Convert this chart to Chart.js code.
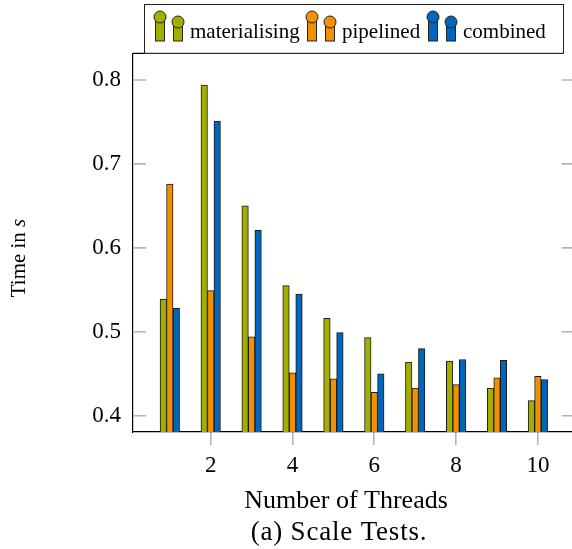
<!DOCTYPE html>
<html>
<head>
<meta charset="utf-8">
<script src="https://cdn.jsdelivr.net/npm/chart.js@4.4.1/dist/chart.umd.min.js"></script>
<style>
  html, body { margin: 0; padding: 0; overflow: hidden; background: #fff; }
  #wrap { width: 572px; height: 549px; overflow: hidden; }
</style>
</head>
<body>
<div id="wrap"><canvas id="scaleChart" width="585" height="549"></canvas></div>
<script>
// Run time in seconds per thread count
const threads = [1, 2, 3, 4, 5, 6, 7, 8, 9, 10];
const materialising = [0.539, 0.794, 0.650, 0.555, 0.516, 0.493, 0.464, 0.465, 0.433, 0.418];
const pipelined = [0.676, 0.549, 0.494, 0.451, 0.444, 0.428, 0.433, 0.437, 0.445, 0.447];
const combined = [0.528, 0.751, 0.621, 0.545, 0.499, 0.450, 0.480, 0.467, 0.466, 0.443];

const xTicks = [2, 4, 6, 8, 10];
const yTicks = [0.4, 0.5, 0.6, 0.7, 0.8];

const seriesNames = ['materialising', 'pipelined', 'combined'];
const seriesColors = ['#a2ae00', '#f29100', '#0065bd'];

const serif = '"Liberation Serif", "DejaVu Serif", serif';

function toPoints(values) {
  return values.map((v, i) => ({ x: threads[i], y: v }));
}

// legend, inner tick marks, axis titles and caption
const decorations = {
  id: 'decorations',
  afterDraw(chart) {
    const ctx = chart.ctx;
    const area = chart.chartArea;
    const yScale = chart.scales.y;
    ctx.save();

    // tick marks pointing into the plot on both sides
    ctx.strokeStyle = '#b4b4b4';
    ctx.lineWidth = 1.6;
    yTicks.forEach(v => {
      const py = yScale.getPixelForValue(v);
      ctx.beginPath();
      ctx.moveTo(area.left + 1, py);
      ctx.lineTo(area.left + 13, py);
      ctx.moveTo(area.right - 13, py);
      ctx.lineTo(area.right, py);
      ctx.stroke();
    });

    // top edge of the axis box
    ctx.strokeStyle = '#000';
    ctx.lineWidth = 1.2;
    ctx.beginPath();
    ctx.moveTo(area.left, area.top);
    ctx.lineTo(563, area.top);
    ctx.stroke();

    // legend box
    ctx.fillStyle = '#fff';
    ctx.fillRect(144, 4, 419, area.top - 4);
    ctx.strokeStyle = '#222';
    ctx.lineWidth = 1;
    ctx.strokeRect(144.5, 4.5, 419, area.top - 4.5);

    const entryX = [155, 307, 428];
    ctx.font = '21px ' + serif;
    ctx.textBaseline = 'alphabetic';
    ctx.textAlign = 'left';
    seriesNames.forEach((name, i) => {
      const x0 = entryX[i];
      [[x0, 17], [x0 + 18, 22]].forEach(([ix, cy]) => {
        ctx.fillStyle = seriesColors[i];
        ctx.strokeStyle = '#222';
        ctx.lineWidth = 1;
        ctx.fillRect(ix, cy, 9, 41 - cy);
        ctx.strokeRect(ix + 0.5, cy, 9, 41 - cy);
        ctx.beginPath();
        ctx.arc(ix + 5, cy, 6, 0, Math.PI * 2);
        ctx.fill();
        ctx.stroke();
      });
      ctx.fillStyle = '#000';
      ctx.fillText(name, x0 + 35, 38);
    });

    // y axis title, "s" set in italics
    ctx.save();
    ctx.translate(19, 258);
    ctx.rotate(-Math.PI / 2);
    ctx.textBaseline = 'middle';
    ctx.font = '21px ' + serif;
    const w1 = ctx.measureText('Time in ').width;
    ctx.font = 'italic 21px ' + serif;
    const w2 = ctx.measureText('s').width;
    let tx = -(w1 + w2) / 2;
    ctx.font = '21px ' + serif;
    ctx.fillText('Time in ', tx, 0);
    ctx.font = 'italic 21px ' + serif;
    ctx.fillText('s', tx + w1, 0);
    ctx.restore();

    // x axis title and caption
    ctx.fillStyle = '#000';
    ctx.textAlign = 'center';
    ctx.textBaseline = 'alphabetic';
    ctx.font = '26px ' + serif;
    ctx.fillText('Number of Threads', 346, 508);
    ctx.font = '27px ' + serif;
    ctx.letterSpacing = '0.8px';
    ctx.fillText('(a) Scale Tests.', 339, 540);
    ctx.letterSpacing = '0px';

    ctx.restore();
  }
};

const chart = new Chart(document.getElementById('scaleChart'), {
  type: 'bar',
  data: {
    datasets: seriesNames.map((name, i) => ({
      label: name,
      data: toPoints([materialising, pipelined, combined][i]),
      backgroundColor: seriesColors[i],
      borderColor: '#1a1a1a',
      borderWidth: 1,
      barThickness: 6.5
    }))
  },
  options: {
    responsive: false,
    animation: false,
    events: [],
    layout: { padding: { top: 53.3, right: 10.3, left: 0, bottom: 0 } },
    plugins: {
      legend: { display: false },
      tooltip: { enabled: false }
    },
    scales: {
      x: {
        type: 'linear',
        min: 0.1,
        max: 10.9,
        offset: false,
        afterBuildTicks: s => { s.ticks = xTicks.map(v => ({ value: v })); },
        afterFit: s => { s.height = 549 - 432; },
        grid: {
          offset: false,
          drawOnChartArea: false,
          tickLength: 13,
          color: '#b4b4b4',
          lineWidth: 1.6
        },
        border: { color: '#000', width: 1.2 },
        ticks: {
          padding: 7,
          color: '#000',
          font: { family: serif, size: 23 },
          callback: v => String(v)
        }
      },
      y: {
        type: 'linear',
        min: 0.3806,
        max: 0.8318,
        beginAtZero: false,
        afterBuildTicks: s => { s.ticks = yTicks.map(v => ({ value: v })); },
        afterFit: s => { s.width = 133; },
        grid: { display: false, drawTicks: false, tickLength: 0 },
        border: { color: '#000', width: 1.2 },
        ticks: {
          padding: 12,
          color: '#000',
          font: { family: serif, size: 23 },
          callback: v => v.toFixed(1)
        }
      }
    }
  },
  plugins: [decorations]
});
</script>
</body>
</html>
